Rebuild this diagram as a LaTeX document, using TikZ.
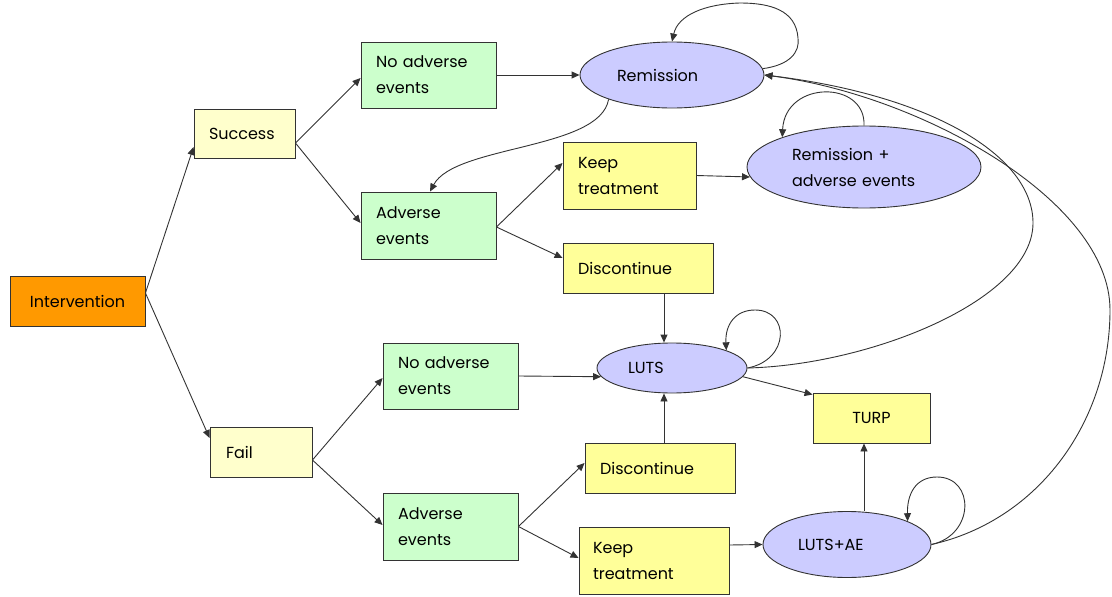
\documentclass[tikz,border=0pt]{standalone}
\usepackage{fontspec}
\setmainfont{Poppins}
\usetikzlibrary{arrows.meta,shapes.geometric}
\definecolor{orangebox}{HTML}{FF9900}
\definecolor{paleyellow}{HTML}{FFFFCC}
\definecolor{greenbox}{HTML}{CCFFCC}
\definecolor{yellowbox}{HTML}{FFFF99}
\definecolor{lilac}{HTML}{CCCCFF}
\definecolor{edge}{HTML}{333333}
\tikzset{
  basebox/.style={draw=edge, line width=0.9pt, rectangle, inner xsep=15pt, inner ysep=0pt,
    align=left, font=\fontsize{16}{26}\selectfont},
  intbox/.style={basebox, fill=orangebox, align=center},
  outcome/.style={basebox, fill=paleyellow},
  aebox/.style={basebox, fill=greenbox, minimum height=66pt, text width=105pt},
  actbox/.style={basebox, fill=yellowbox},
  state/.style={draw=edge, line width=0.9pt, ellipse, fill=lilac, inner sep=2pt,
    align=left, font=\fontsize{16}{26}\selectfont},
  arr/.style={draw=edge, line width=0.9pt, -{Triangle[length=8pt,width=7pt]}},
}
\begin{document}
\begin{tikzpicture}[x=1pt,y=-1pt]
\useasboundingbox (0,0) rectangle (1112,597);
% nodes
\node[intbox, minimum width=135pt, minimum height=50pt] (int) at (77.5,301) {Intervention};
\node[outcome, text width=71pt, minimum height=49pt] (succ) at (244.5,133.5) {Success};
\node[outcome, text width=70pt, minimum height=50pt, inner xsep=16pt] (fail) at (261,452) {Fail};
\node[aebox] (noae1) at (428.5,75) {No adverse\\events};
\node[aebox, minimum height=67pt] (ae1) at (428.5,225.5) {Adverse\\events};
\node[aebox] (noae2) at (450.5,376) {No adverse\\events};
\node[aebox, minimum height=67pt] (ae2) at (450.5,526.5) {Adverse\\events};
\node[actbox, text width=103pt, minimum height=67pt] (keep1) at (629.5,175.5) {Keep\\treatment};
\node[actbox, text width=120pt, minimum height=50pt] (disc1) at (638,268) {Discontinue};
\node[actbox, text width=120pt, minimum height=50pt] (disc2) at (660,468) {Discontinue};
\node[actbox, text width=122pt, minimum height=67pt, inner xsep=14pt] (keep2) at (654,560.5) {Keep\\treatment};
\node[actbox, align=center, minimum width=117pt, minimum height=50pt] (turp) at (871.5,418) {TURP};
\node[state, text width=110pt, minimum width=184pt, minimum height=66pt] (rem) at (672,75) {Remission};
\node[state, text width=144pt, minimum width=234pt, minimum height=82pt] (remae) at (864,167) {Remission +\\adverse events};
\node[state, text width=88pt, minimum width=150pt, minimum height=50pt] (luts) at (672,368) {LUTS};
\node[state, text width=98pt, minimum width=168pt, minimum height=66pt] (lutsae) at (847,544.5) {LUTS+AE};
% tree connectors
\draw[arr] ([yshift=8pt]int.east) -- ([yshift=-13.5pt]succ.west);
\draw[arr] ([yshift=8pt]int.east) -- ([yshift=14pt]fail.west);
\draw[arr] ([yshift=-9.5pt]succ.east) -- ([yshift=-3pt]noae1.west);
\draw[arr] ([yshift=-9.5pt]succ.east) -- ([yshift=2.5pt]ae1.west);
\draw[arr] ([yshift=-8pt]fail.east) -- ([yshift=-2pt]noae2.west);
\draw[arr] ([yshift=-8pt]fail.east) -- ([yshift=1.5pt]ae2.west);
\draw[arr] (noae1.east) -- (rem.west);
\draw[arr] ([yshift=-1.5pt]ae1.east) -- ([yshift=12.5pt]keep1.west);
\draw[arr] ([yshift=-1.5pt]ae1.east) -- ([yshift=10pt]disc1.west);
\draw[arr] (ae2.east) -- ([yshift=5pt]disc2.west);
\draw[arr] (ae2.east) -- ([yshift=2.5pt]keep2.west);
\draw[arr] (keep1.east) -- (remae.185);
\draw[arr] ([xshift=26pt]disc1.south) -- ([xshift=-8pt]luts.north);
\draw[arr] ([xshift=4pt]disc2.north) -- ([xshift=-8pt]luts.south);
\draw[arr] (noae2.east) -- (luts.187);
\draw[arr] ([yshift=15.5pt]keep2.east) -- (lutsae.west);
\draw[arr] (luts.-7) -- ([yshift=-2pt]turp.north west);
\draw[arr] ([xshift=17pt]lutsae.north) -- ([xshift=-7.5pt]turp.south);
% curved connectors
\draw[arr] (rem.201) .. controls (600,150) and (455,145) .. ([xshift=1.5pt]ae1.north);
\draw[arr] (rem.4) .. controls (790,65) and (800,52) .. (798,38)
  .. controls (796,10) and (770,3) .. (740,3)
  .. controls (705,4) and (678,15) .. (rem.north);
\draw[arr] (remae.north) .. controls (866,80) and (785,80) .. (remae.160);
\draw[arr] (luts.east) .. controls (790,360) and (790,310) .. (755,310)
  .. controls (735,310) and (725,325) .. (luts.18);
\draw[arr] (lutsae.east) .. controls (975,535) and (975,477) .. (937,477)
  .. controls (915,477) and (907,495) .. (lutsae.21);
\draw[arr] (luts.east) .. controls (870,365) and (1033,300) .. (1033,223)
  .. controls (1033,155) and (930,95) .. (rem.east);
\draw[arr] (lutsae.east) .. controls (1040,520) and (1110,420) .. (1110,310)
  .. controls (1110,200) and (920,95) .. (rem.east);
\end{tikzpicture}
\end{document}
